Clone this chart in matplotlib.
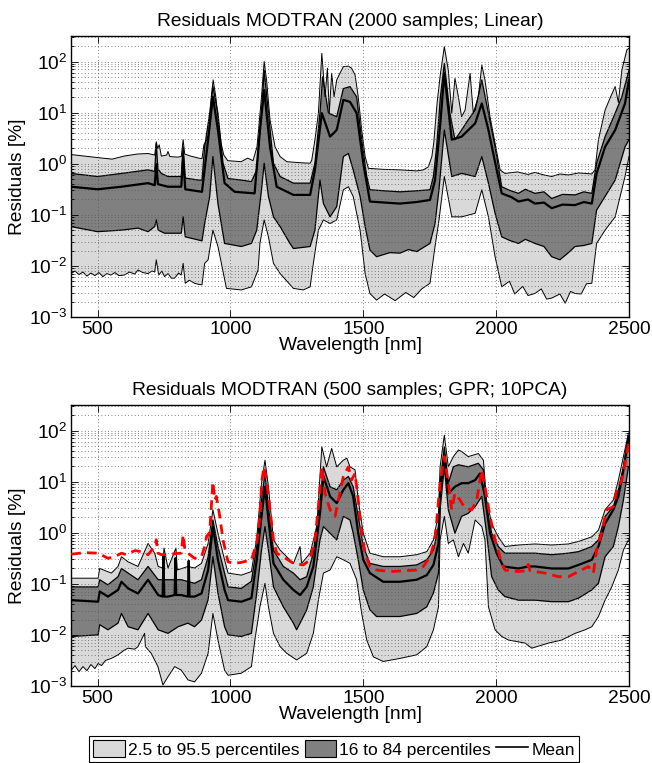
import matplotlib

matplotlib.use("Agg")

import matplotlib.pyplot as plt
import numpy as np
from matplotlib.lines import Line2D
from matplotlib.patches import Patch

plt.rcParams["font.family"] = ["Liberation Sans", "DejaVu Sans"]
plt.rcParams["mathtext.fontset"] = "custom"
plt.rcParams["mathtext.rm"] = "Liberation Sans"
plt.rcParams["mathtext.it"] = "Liberation Sans:italic"
plt.rcParams["font.size"] = 13.8

# ---- panel 1: Linear, 2000 samples (values are log10 of residual %) ----
lin_p975_wl = [400, 450, 500, 555, 600, 650, 690, 715, 721, 726, 732, 740, 760, 765, 772, 800,
               815, 822, 828, 850, 880, 893, 900, 910, 920, 928, 935, 945, 955, 965, 975, 990,
               1040, 1065, 1085, 1100, 1117, 1127, 1136, 1149, 1168, 1187, 1212, 1262, 1300,
               1306, 1318, 1331, 1344, 1356, 1365, 1372, 1381, 1390, 1400, 1412, 1425, 1444,
               1456, 1469, 1481, 1494, 1507, 1519, 1575, 1638, 1701, 1726, 1745, 1758, 1765,
               1778, 1790, 1805, 1820, 1833, 1845, 1858, 1870, 1883, 1902, 1914, 1933, 1946,
               1958, 1977, 1996, 2015, 2033, 2080, 2120, 2146, 2180, 2209, 2240, 2272, 2310,
               2360, 2372, 2385, 2410, 2430, 2448, 2460, 2473, 2492, 2500]
lin_p975 = [0.18, 0.15, 0.12, 0.09, 0.15, 0.19, 0.20, 0.17, 0.43, 0.30, 0.37, 0.15, 0.17, 0.24,
            0.14, 0.13, 0.14, 0.47, 0.19, 0.15, 0.11, 0.10, 0.37, 0.46, 0.59, 1.31, 1.64, 1.31,
            0.79, 0.40, 0.17, 0.06, 0.04, 0.11, 0.06, 0.33, 1.31, 2.00, 1.64, 0.86, 0.33, 0.14,
            0.04, 0.02, 0.01, 0.07, 0.47, 0.99, 2.16, 1.31, 1.87, 0.99, 1.77, 1.31, 1.64, 1.77,
            1.90, 1.91, 1.87, 1.74, 1.31, 0.66, 0.14, -0.09, -0.11, -0.12, -0.14, -0.12, -0.06,
            0.14, 0.40, 1.20, 1.75, 2.29, 1.83, 0.99, 1.67, 1.31, 0.92, 1.05, 1.77, 0.99, 1.31,
            1.93, 1.64, 0.92, 0.40, -0.12, -0.19, -0.16, -0.21, -0.17, -0.22, -0.25, -0.20,
            -0.22, -0.18, -0.20, -0.12, 0.47, 1.05, 1.30, 1.51, 1.20, 1.83, 2.23, 2.26]

lin_p84_wl = [400, 500, 590, 690, 715, 721, 727, 740, 765, 800, 815, 822, 830, 880, 893, 903,
              922, 934, 953, 972, 991, 1041, 1079, 1099, 1117, 1127, 1143, 1162, 1187, 1237,
              1300, 1318, 1337, 1347, 1369, 1400, 1425, 1450, 1475, 1494, 1513, 1525, 1580,
              1638, 1700, 1751, 1764, 1776, 1790, 1805, 1826, 1845, 1870, 1895, 1921, 1946,
              1971, 1996, 2021, 2050, 2084, 2110, 2146, 2180, 2209, 2250, 2297, 2330, 2360,
              2378, 2410, 2448, 2473, 2500]
lin_p84 = [-0.19, -0.25, -0.19, -0.12, -0.15, 0.40, -0.10, -0.19, -0.25, -0.25, -0.25, 0.33,
           -0.28, -0.32, -0.32, 0.33, 0.99, 1.51, 0.99, 0.01, -0.29, -0.32, -0.35, -0.12, 0.99,
           1.83, 0.99, 0.01, -0.25, -0.38, -0.38, 0.01, 0.99, 1.70, 0.99, 0.92, 1.47, 1.51,
           1.31, 0.47, -0.25, -0.51, -0.53, -0.55, -0.53, -0.51, -0.25, 0.33, 1.30, 1.96, 0.99,
           0.47, 0.66, 0.86, 1.05, 1.64, 0.99, 0.33, -0.45, -0.52, -0.58, -0.50, -0.58, -0.55,
           -0.68, -0.60, -0.61, -0.55, -0.58, 0.01, 0.53, 0.99, 1.31, 1.83]

lin_mean_wl = [400, 500, 590, 690, 715, 721, 727, 765, 815, 822, 830, 893, 916, 934, 953, 978,
               1016, 1091, 1111, 1127, 1149, 1174, 1237, 1300, 1318, 1344, 1375, 1400, 1425,
               1450, 1475, 1500, 1525, 1580, 1638, 1700, 1751, 1770, 1790, 1805, 1833, 1870,
               1921, 1946, 1971, 2002, 2021, 2060, 2084, 2120, 2146, 2180, 2209, 2250, 2297,
               2330, 2360, 2378, 2410, 2448, 2485, 2500]
lin_mean = [-0.45, -0.50, -0.45, -0.38, -0.42, -0.01, -0.40, -0.45, -0.45, 0.14, -0.50, -0.55,
            0.47, 1.31, 0.66, -0.38, -0.55, -0.58, 0.66, 1.44, 0.33, -0.45, -0.61, -0.61,
            -0.12, 0.99, 0.53, 0.66, 1.25, 1.21, 0.99, 0.01, -0.74, -0.76, -0.78, -0.75, -0.71,
            -0.32, 0.80, 1.77, 0.47, 0.53, 0.79, 1.18, 0.66, -0.12, -0.58, -0.66, -0.74, -0.70,
            -0.78, -0.76, -0.87, -0.80, -0.81, -0.75, -0.78, -0.19, 0.33, 0.66, 1.18, 1.64]

lin_p16_wl = [400, 500, 590, 652, 690, 715, 721, 728, 752, 800, 815, 822, 830, 893, 903, 922,
              934, 953, 978, 1041, 1079, 1099, 1117, 1127, 1143, 1162, 1187, 1224, 1237, 1300,
              1318, 1337, 1350, 1375, 1400, 1425, 1444, 1462, 1488, 1507, 1525, 1550, 1600,
              1638, 1670, 1701, 1751, 1770, 1785, 1805, 1833, 1870, 1921, 1946, 1971, 1996,
              2021, 2050, 2084, 2110, 2146, 2180, 2209, 2240, 2270, 2297, 2330, 2360, 2378,
              2410, 2448, 2485, 2500]
lin_p16 = [-1.23, -1.33, -1.30, -1.26, -1.33, -1.23, -1.10, -1.30, -1.36, -1.36, -1.36, -1.04,
           -1.43, -1.51, -1.17, -0.64, 0.14, -0.78, -1.56, -1.62, -1.56, -1.30, -0.51, 0.01,
           -0.64, -1.04, -1.23, -1.56, -1.66, -1.62, -1.30, -0.32, -0.78, -1.04, -0.84, 0.14,
           0.20, -0.12, -0.64, -1.23, -1.69, -1.82, -1.74, -1.75, -1.68, -1.72, -1.56, -1.17,
           -0.50, 0.66, -0.25, -0.19, -0.25, 0.14, -0.38, -0.97, -1.43, -1.50, -1.56, -1.48,
           -1.56, -1.62, -1.82, -1.88, -1.75, -1.62, -1.60, -1.56, -0.91, -0.64, -0.32, 0.33,
           0.47]

lin_p025_wl = [400, 415, 430, 445, 460, 475, 490, 505, 520, 535, 550, 565, 580, 600, 620, 640,
               652, 670, 690, 705, 715, 721, 730, 742, 752, 765, 778, 790, 805, 815, 822, 830,
               845, 865, 880, 893, 903, 916, 934, 953, 966, 985, 1041, 1079, 1104, 1111, 1127,
               1143, 1162, 1187, 1237, 1274, 1300, 1312, 1331, 1350, 1375, 1400, 1425, 1444,
               1462, 1488, 1507, 1525, 1550, 1580, 1620, 1660, 1690, 1720, 1751, 1770, 1785,
               1805, 1833, 1870, 1921, 1946, 1971, 1996, 2021, 2050, 2070, 2100, 2120, 2146,
               2170, 2190, 2209, 2240, 2260, 2280, 2297, 2320, 2340, 2360, 2378, 2410, 2448,
               2485, 2500]
lin_p025 = [-2.15, -2.10, -2.17, -2.12, -2.20, -2.14, -2.19, -2.13, -2.21, -2.15, -2.18, -2.13,
            -2.19, -2.18, -2.12, -2.16, -2.08, -2.13, -2.15, -2.10, -2.12, -1.88, -2.18, -2.10,
            -2.21, -2.15, -2.24, -2.24, -2.14, -2.18, -1.95, -2.34, -2.28, -2.34, -2.36, -2.37,
            -1.95, -1.88, -1.30, -1.62, -1.95, -2.44, -2.47, -2.41, -2.08, -1.56, -1.10, -1.43,
            -1.95, -2.15, -2.44, -2.47, -2.41, -1.95, -1.30, -1.10, -1.17, -1.10, -0.51, -0.45,
            -0.64, -1.30, -2.15, -2.54, -2.67, -2.55, -2.68, -2.52, -2.62, -2.45, -2.34, -1.62,
            -1.10, -0.25, -1.04, -1.04, -0.97, -0.51, -1.04, -1.82, -2.41, -2.30, -2.55, -2.40,
            -2.58, -2.54, -2.45, -2.65, -2.63, -2.55, -2.73, -2.50, -2.54, -2.55, -2.35, -2.34,
            -1.56, -1.30, -1.04, -0.25, 0.14]

# ---- panel 2: GPR, 500 samples, 10 PCA ----
gpr_red_wl = [401, 451, 502, 539, 564, 590, 608, 640, 665, 690, 715, 721, 727, 740, 765, 790,
              815, 822, 828, 840, 865, 891, 903, 910, 922, 934, 941, 947, 960, 972, 991, 1016,
              1041, 1079, 1099, 1112, 1117, 1126, 1136, 1149, 1162, 1174, 1199, 1237, 1274,
              1300, 1318, 1331, 1344, 1356, 1375, 1394, 1406, 1425, 1444, 1456, 1469, 1481,
              1494, 1507, 1525, 1550, 1601, 1663, 1701, 1726, 1751, 1770, 1789, 1805, 1820,
              1833, 1845, 1864, 1883, 1908, 1927, 1946, 1958, 1977, 1996, 2021, 2033, 2084,
              2115, 2121, 2127, 2146, 2184, 2234, 2272, 2310, 2347, 2366, 2378, 2397, 2416,
              2441, 2454, 2473, 2492, 2500]
gpr_red = [-0.42, -0.39, -0.40, -0.50, -0.47, -0.40, -0.43, -0.35, -0.37, -0.43, -0.27, -0.14,
           -0.40, -0.43, -0.43, -0.41, -0.40, -0.04, -0.30, -0.40, -0.50, -0.47, -0.27, -0.08,
           0.01, 1.00, 0.64, 0.71, 0.32, -0.14, -0.57, -0.60, -0.58, -0.53, -0.20, 0.35, 0.97,
           1.29, 1.03, 0.45, -0.14, -0.40, -0.47, -0.60, -0.63, -0.53, -0.14, 0.51, 1.29, 0.77,
           0.45, 0.32, 0.64, 1.10, 1.29, 1.03, 1.16, 0.64, -0.01, -0.40, -0.66, -0.73, -0.76,
           -0.74, -0.73, -0.66, -0.47, -0.14, 0.97, 1.49, 0.97, 0.45, 0.77, 0.64, 0.48, 0.45,
           0.64, 1.23, 0.90, 0.32, -0.14, -0.60, -0.73, -0.76, -0.74, -0.62, -0.74, -0.76,
           -0.79, -0.86, -0.86, -0.76, -0.66, -0.79, -0.34, -0.01, 0.45, 0.51, 0.84, 1.03,
           1.55, 1.81]

gpr_p975_wl = [401, 502, 508, 552, 577, 590, 615, 652, 690, 715, 728, 745, 750, 765, 795, 800,
               840, 865, 891, 916, 934, 953, 978, 991, 1041, 1079, 1099, 1117, 1130, 1143, 1162,
               1187, 1212, 1237, 1262, 1268, 1300, 1325, 1344, 1362, 1381, 1400, 1425, 1438,
               1450, 1469, 1481, 1500, 1525, 1575, 1638, 1701, 1739, 1764, 1783, 1789, 1805,
               1820, 1839, 1858, 1870, 1895, 1933, 1952, 1964, 1983, 2008, 2033, 2084, 2146,
               2209, 2272, 2310, 2360, 2385, 2410, 2441, 2460, 2479, 2498]
gpr_p975 = [-0.89, -0.89, -0.70, -0.79, -0.66, -0.47, -0.57, -0.66, -0.21, -0.40, -0.66, -0.69,
            -0.30, -0.69, -0.30, -0.73, -0.66, -0.69, -0.60, -0.21, 0.45, -0.01, -0.53, -0.79,
            -0.83, -0.76, -0.10, 0.97, 1.42, 0.90, -0.14, -0.34, -0.47, -0.60, -0.27, -0.60,
            -0.40, 0.12, 1.68, 1.29, 1.65, 1.29, 1.42, 1.46, 1.29, 1.23, 0.64, -0.01, -0.40,
            -0.47, -0.47, -0.43, -0.37, -0.14, 0.38, 1.29, 1.91, 1.29, 1.49, 1.62, 1.59, 1.49,
            1.55, 1.42, 0.64, 0.18, -0.08, -0.27, -0.24, -0.22, -0.24, -0.22, -0.17, -0.08,
            0.05, 0.45, 0.64, 1.03, 1.49, 1.95]

gpr_p84_wl = [401, 502, 508, 539, 577, 590, 615, 652, 690, 728, 765, 815, 865, 891, 916, 934,
              953, 978, 991, 1041, 1079, 1099, 1117, 1130, 1143, 1162, 1199, 1237, 1262, 1287,
              1312, 1337, 1350, 1375, 1400, 1425, 1444, 1462, 1481, 1500, 1525, 1575, 1638,
              1701, 1739, 1764, 1783, 1789, 1805, 1820, 1839, 1858, 1895, 1933, 1952, 1964,
              1983, 2008, 2033, 2146, 2209, 2272, 2310, 2360, 2385, 2410, 2441, 2460, 2479, 2498]
gpr_p84 = [-1.06, -1.06, -0.92, -1.02, -0.86, -0.70, -0.79, -0.92, -0.66, -0.92, -0.92, -0.92,
           -0.99, -0.92, -0.47, 0.25, -0.27, -0.79, -1.06, -1.09, -0.95, -0.27, 0.64, 1.16, 0.51,
           -0.34, -0.66, -0.79, -0.92, -0.86, -0.40, 0.64, 1.29, 0.90, 0.84, 1.03, 1.10, 0.90,
           0.32, -0.27, -0.60, -0.66, -0.66, -0.63, -0.53, -0.34, 0.12, 0.97, 1.68, 0.97, 1.29,
           1.33, 1.29, 1.36, 1.23, 0.51, -0.01, -0.27, -0.40, -0.40, -0.43, -0.40, -0.37, -0.27,
           -0.14, 0.32, 0.51, 0.84, 1.29, 1.88]

gpr_mean_wl = [401, 502, 508, 539, 577, 590, 615, 652, 690, 728, 745, 748, 751, 765, 790, 793,
               796, 815, 840, 843, 846, 865, 891, 916, 934, 953, 978, 991, 1041, 1079, 1099,
               1117, 1130, 1143, 1162, 1199, 1237, 1262, 1287, 1312, 1337, 1350, 1375, 1400,
               1425, 1444, 1462, 1481, 1500, 1525, 1575, 1638, 1701, 1739, 1764, 1783, 1789,
               1805, 1820, 1845, 1870, 1895, 1921, 1939, 1958, 1977, 2002, 2027, 2084, 2121,
               2146, 2209, 2272, 2310, 2360, 2385, 2410, 2441, 2460, 2479, 2498]
gpr_mean = [-1.32, -1.35, -1.15, -1.25, -1.12, -0.96, -1.09, -1.19, -0.92, -1.22, -1.25, -0.45,
            -1.25, -1.25, -1.22, -0.50, -1.22, -1.22, -1.25, -0.55, -1.25, -1.25, -1.19, -0.73,
            0.12, -0.53, -1.12, -1.32, -1.35, -1.28, -0.53, 0.32, 0.90, 0.25, -0.60, -0.92,
            -1.12, -1.22, -1.06, -0.66, 0.38, 1.10, 0.71, 0.58, 0.84, 0.97, 0.71, -0.01, -0.53,
            -0.79, -0.96, -0.96, -0.92, -0.83, -0.63, -0.21, 0.77, 1.52, 0.77, 0.90, 0.97, 0.97,
            1.03, 1.16, 0.71, -0.01, -0.40, -0.66, -0.70, -0.66, -0.66, -0.70, -0.70, -0.63,
            -0.53, -0.27, 0.18, 0.45, 0.71, 1.23, 1.85]

gpr_p16_wl = [401, 502, 508, 539, 577, 590, 615, 652, 690, 728, 765, 803, 840, 865, 891, 916,
              934, 953, 978, 991, 1041, 1079, 1099, 1117, 1130, 1143, 1162, 1199, 1237, 1249,
              1268, 1287, 1312, 1337, 1350, 1375, 1400, 1425, 1450, 1462, 1481, 1500, 1525,
              1550, 1638, 1701, 1739, 1764, 1783, 1789, 1805, 1820, 1845, 1870, 1895, 1921,
              1946, 1964, 1983, 2008, 2033, 2084, 2146, 2209, 2272, 2310, 2360, 2385, 2410,
              2441, 2460, 2479, 2498]
gpr_p16 = [-2.03, -2.00, -1.80, -1.90, -1.77, -1.58, -1.84, -1.90, -1.58, -1.90, -1.97, -1.84,
           -1.77, -1.84, -1.71, -1.31, -0.47, -1.18, -1.84, -2.00, -2.03, -1.97, -1.18, -0.34,
           0.12, -0.34, -1.06, -1.45, -1.77, -1.90, -1.71, -1.51, -1.06, -0.14, 0.12, -0.01,
           -0.14, 0.32, 0.25, -0.01, -0.53, -1.12, -1.51, -1.64, -1.64, -1.58, -1.45, -1.18,
           -0.79, 0.45, 1.29, 0.45, -0.01, 0.32, 0.38, 0.51, 0.71, -0.01, -0.86, -1.12, -1.25,
           -1.32, -1.32, -1.35, -1.35, -1.28, -1.12, -0.99, -0.47, -0.27, 0.12, 0.64, 1.29]

gpr_p025_wl = [401, 415, 430, 445, 460, 475, 490, 502, 515, 530, 552, 577, 600, 615, 640, 652,
               677, 680, 702, 727, 746, 765, 790, 815, 840, 865, 891, 916, 934, 953, 978, 991,
               1041, 1079, 1092, 1111, 1130, 1143, 1162, 1187, 1212, 1249, 1287, 1312, 1331,
               1350, 1375, 1400, 1425, 1450, 1475, 1494, 1513, 1538, 1575, 1638, 1701, 1739,
               1764, 1783, 1789, 1805, 1820, 1839, 1858, 1877, 1895, 1921, 1946, 1958, 1971,
               1996, 2021, 2046, 2109, 2134, 2197, 2247, 2297, 2335, 2360, 2385, 2410, 2435,
               2460, 2479, 2498]
gpr_p025 = [-2.69, -2.60, -2.72, -2.62, -2.70, -2.58, -2.66, -2.56, -2.60, -2.50, -2.46, -2.39,
            -2.30, -2.26, -2.28, -2.23, -1.97, -2.23, -2.36, -2.62, -2.98, -2.82, -2.62, -2.69,
            -2.88, -2.92, -2.75, -2.36, -1.58, -2.10, -2.69, -2.79, -2.75, -2.62, -2.10, -1.45,
            -0.99, -1.45, -1.97, -2.23, -2.36, -2.49, -2.36, -1.97, -1.32, -0.79, -0.73, -0.47,
            -0.53, -0.60, -0.92, -1.58, -2.10, -2.43, -2.52, -2.46, -2.39, -2.23, -1.90, -1.45,
            -0.14, 0.32, -0.21, -0.14, -0.47, -0.21, -0.40, 0.25, 0.12, -0.14, -1.45, -1.90,
            -2.03, -2.10, -2.16, -2.26, -2.16, -2.10, -1.97, -1.90, -1.84, -1.64, -1.32, -1.06,
            -0.73, -0.34, -0.14]

titles = ["Residuals MODTRAN (2000 samples; Linear)",
          "Residuals MODTRAN (500 samples; GPR; 10PCA)"]
legend_labels = ["2.5 to 95.5 percentiles", "16 to 84 percentiles", "Mean"]

LIGHT = "#d9d9d9"
DARK = "#808080"


def band(ax, wl_hi, hi, wl_lo, lo, color):
    xs = np.concatenate([wl_hi, wl_lo[::-1]])
    ys = np.concatenate([10.0 ** np.asarray(hi), 10.0 ** np.asarray(lo)[::-1]])
    ax.fill(xs, ys, facecolor=color, edgecolor="none", zorder=1)


def draw_panel(ax, p975, p84, mean, p16, p025, title, red=None):
    band(ax, np.asarray(p975[0]), p975[1], np.asarray(p025[0]), p025[1], LIGHT)
    band(ax, np.asarray(p84[0]), p84[1], np.asarray(p16[0]), p16[1], DARK)
    for wl, v in (p975, p025):
        ax.plot(wl, 10.0 ** np.asarray(v), color="k", lw=0.7, zorder=2)
    for wl, v in (p84, p16):
        ax.plot(wl, 10.0 ** np.asarray(v), color="k", lw=0.9, zorder=2)
    ax.plot(mean[0], 10.0 ** np.asarray(mean[1]), color="k", lw=1.6, zorder=3)
    if red is not None:
        ax.plot(red[0], 10.0 ** np.asarray(red[1]), color="red", lw=2.0,
                dashes=(3.5, 2.2), zorder=4)

    ax.set_yscale("log")
    ax.set_xlim(400, 2500)
    ax.set_ylim(1e-3, 10 ** 2.5)
    ax.set_xticks([500, 1000, 1500, 2000, 2500])
    ax.set_yticks([1e-3, 1e-2, 1e-1, 1e0, 1e1, 1e2])
    ax.tick_params(which="both", direction="in", top=True, right=True, width=0.6)
    ax.tick_params(which="major", length=5, pad=3)
    ax.tick_params(which="minor", length=2.5)
    ax.set_axisbelow(False)
    ax.xaxis.grid(True, which="major", color="0.35", lw=0.6, ls=(0, (1, 3)))
    ax.yaxis.grid(True, which="both", color="0.35", lw=0.6, ls=(0, (1, 3)))
    for s in ax.spines.values():
        s.set_linewidth(1.0)
    ax.set_title(title, fontsize=13.8, pad=7)
    ax.set_xlabel("Wavelength [nm]", labelpad=-1)
    ax.set_ylabel("Residuals [%]", labelpad=2)


fig = plt.figure(figsize=(6.52, 7.63), dpi=100)
ax1 = fig.add_axes([71 / 652, 1 - 317 / 763, 558 / 652, 281 / 763])
ax2 = fig.add_axes([71 / 652, 1 - 686 / 763, 558 / 652, 281 / 763])

draw_panel(ax1, (lin_p975_wl, lin_p975), (lin_p84_wl, lin_p84), (lin_mean_wl, lin_mean),
           (lin_p16_wl, lin_p16), (lin_p025_wl, lin_p025), titles[0])
draw_panel(ax2, (gpr_p975_wl, gpr_p975), (gpr_p84_wl, gpr_p84), (gpr_mean_wl, gpr_mean),
           (gpr_p16_wl, gpr_p16), (gpr_p025_wl, gpr_p025), titles[1],
           red=(gpr_red_wl, gpr_red))

handles = [Patch(facecolor=LIGHT, edgecolor="k", lw=0.8),
           Patch(facecolor=DARK, edgecolor="k", lw=0.8),
           Line2D([], [], color="k", lw=1.2)]
leg = fig.legend(handles, legend_labels, loc="upper center", ncol=3, fontsize=12.5,
                 bbox_to_anchor=(334 / 652, 1 - 736 / 763), frameon=True, fancybox=False,
                 edgecolor="k", framealpha=1, handlelength=1.8, handleheight=1.1,
                 handletextpad=0.2, columnspacing=0.3, borderpad=0.25, borderaxespad=0)
leg.get_frame().set_linewidth(0.8)

fig.savefig("out.png", dpi=100)
plt.close(fig)
